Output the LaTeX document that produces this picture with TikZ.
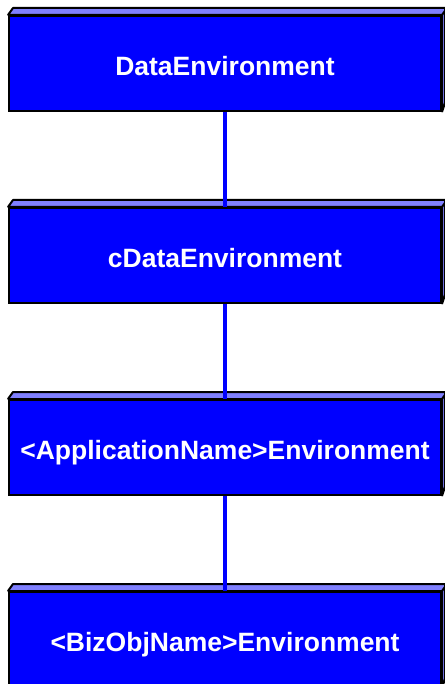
\documentclass[tikz,border=0pt]{standalone}
\usepackage{fontspec}
\setmainfont{Liberation Sans}
\tikzstyle{env} = [rectangle, draw=black, line width=2pt, fill=blue, text=white, font=\bfseries\fontsize{26.5}{30}\selectfont, minimum width=432pt, minimum height=95pt, inner sep=0pt, text height=30pt, text depth=6pt]
\tikzstyle{face} = [fill=blue!50, draw=black, line width=2pt, line join=bevel]
\tikzstyle{link} = [draw=blue, line width=4pt]
% top and right faces of a box
\newcommand{\boxtop}[1]{\filldraw[face] (#1.north west) -- ++(5,7) -- ++(432,0) -- ++(0,-95) -- (#1.south east) -- (#1.north east) -- cycle;
	\draw[line width=2pt] (#1.north east) -- ++(5,7);}

\begin{document}
\begin{tikzpicture}[x=1pt, y=1pt]
			\useasboundingbox (0,0) rectangle (444,-684);
			\node [env] (data) at (225,-63.5) {DataEnvironment};
			\node [env] (cdata) at (225,-255.5) {cDataEnvironment};
			\node [env] (app) at (225,-447.5) {<ApplicationName>Environment};
			\node [env] (bizobj) at (225,-639.5) {<BizObjName>Environment};
			\foreach \b in {data, cdata, app, bizobj} {\boxtop{\b}}
			\draw [link] (data.south) -- (cdata.north);
			\draw [link] (cdata.south) -- (app.north);
			\draw [link] (app.south) -- (bizobj.north);
		\end{tikzpicture}
\end{document}
